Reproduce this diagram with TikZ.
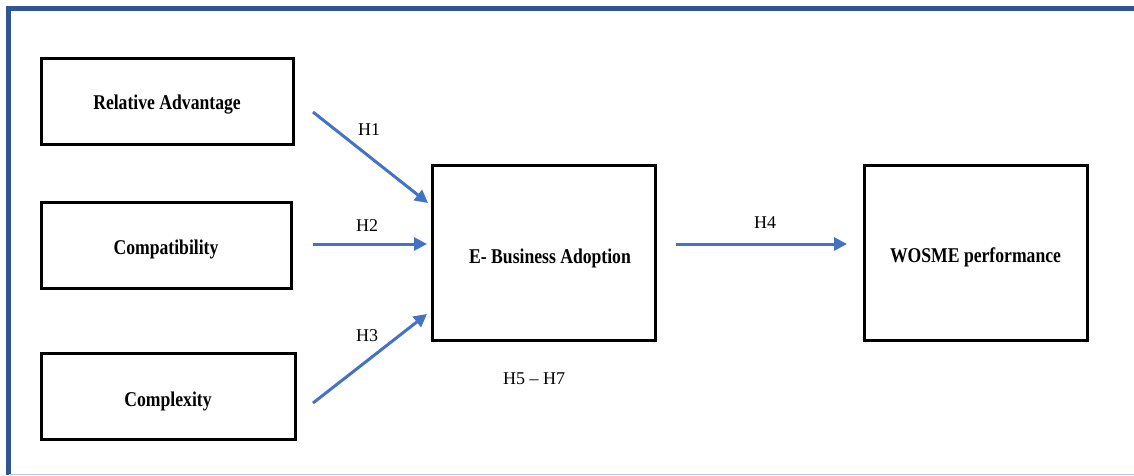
\documentclass[tikz,border=0pt]{standalone}
\usepackage{fontspec}
\setmainfont{Liberation Serif}
\newfontfamily\boxfont[FakeStretch=0.84]{Liberation Serif}
\usetikzlibrary{arrows.meta}
\definecolor{framblue}{RGB}{47,85,151}
\definecolor{framlight}{RGB}{180,199,231}
\definecolor{arrblue}{RGB}{68,114,196}
\tikzset{
  varbox/.style={draw=black, line width=3pt, inner sep=0pt},
  boxtext/.style={inner sep=0pt, font=\boxfont\bfseries\fontsize{21}{24}\selectfont},
  harrow/.style={draw=arrblue, line width=3pt, -{Triangle[length=13pt,width=13pt]}},
  hlabel/.style={font=\fontsize{18}{20}\selectfont, inner sep=0pt}
}
\begin{document}
\begin{tikzpicture}[x=1pt,y=-1pt]
\useasboundingbox (0,0) rectangle (1134,475);
\fill[white] (0,0) rectangle (1134,475);
% frame
\draw[framblue, line width=5pt] (8.5,475) -- (8.5,8.5) -- (1134,8.5);
\draw[framlight, line width=1.2pt] (8.5,474.4) -- (1134,474.4);
% boxes
\node[varbox, minimum width=252pt, minimum height=86pt] (ra) at (167,101) {};
\node[varbox, minimum width=250pt, minimum height=86pt] (co) at (166,245) {};
\node[varbox, minimum width=254pt, minimum height=86pt] (cx) at (168,396) {};
\node[varbox, minimum width=223pt, minimum height=175pt] (eb) at (543.5,252.5) {};
\node[varbox, minimum width=223pt, minimum height=175pt] (wp) at (975.5,252.5) {};
% box texts
\node[boxtext] (rat) at (167,105) {Relative Advantage};
\node[boxtext] (cot) at (166,249) {Compatibility};
\node[boxtext] (cxt) at (168,401) {Complexity};
\node[boxtext] (ebt) at (550,258) {E- Business Adoption};
\node[boxtext] (wpt) at (975.5,257) {WOSME performance};
% arrow end points
\coordinate (s1) at (313,112);
\coordinate (e1) at (428,203);
\coordinate (s2) at (313,244);
\coordinate (e2) at (427,244);
\coordinate (s3) at (313,403);
\coordinate (e3) at (427,314);
\coordinate (s4) at (676,244);
\coordinate (e4) at (847,244);
\draw[harrow] (s1) -- (e1);
\draw[harrow] (s2) -- (e2);
\draw[harrow] (s3) -- (e3);
\draw[harrow] (s4) -- (e4);
% labels
\node[hlabel] (h1) at (369,130) {H1};
\node[hlabel] (h2) at (367,226) {H2};
\node[hlabel] (h3) at (367,336) {H3};
\node[hlabel] (h4) at (765,223) {H4};
\node[hlabel] (h57) at (534,379) {H5 -- H7};
\end{tikzpicture}
\end{document}
